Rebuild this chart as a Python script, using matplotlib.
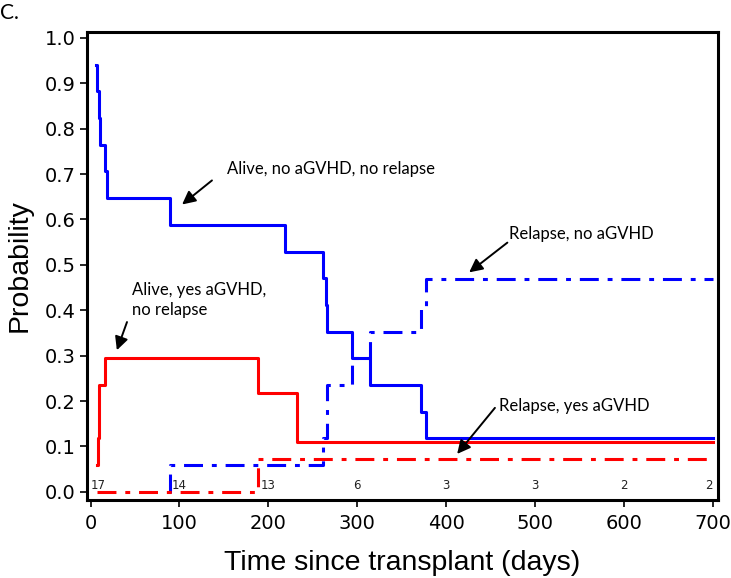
import matplotlib
matplotlib.use('Agg')
import matplotlib.pyplot as plt
import numpy as np

# step curves (time in days, probability)
t_alive_no = [6.5, 7.8, 9.0, 10.5, 16.4, 19.0, 89.3, 218.8, 262.0, 264.6, 266.5, 294.3, 314.5, 372.0, 377.6, 700]
p_alive_no = [0.941, 0.882, 0.824, 0.765, 0.706, 0.647, 0.588, 0.529, 0.471, 0.412, 0.353, 0.294, 0.235, 0.176, 0.118, 0.118]

t_alive_yes = [7.0, 8.5, 9.2, 10.0, 16.0, 188.0, 232.0, 700]
p_alive_yes = [0.059, 0.118, 0.176, 0.235, 0.294, 0.218, 0.110, 0.110]

t_rel_no = [88.0, 89.4, 262.0, 266.5, 294.3, 314.5, 372.0, 377.6, 700]
p_rel_no = [0.0, 0.059, 0.118, 0.235, 0.294, 0.353, 0.409, 0.469, 0.469]

t_rel_yes = [6.7, 188.0, 700]
p_rel_yes = [0.0, 0.073, 0.073]

risk_times = [0, 100, 200, 300, 400, 500, 600, 700]
risk_counts = ['17', '14', '13', '6', '3', '3', '2', '2']

BLUE = '#0000FF'
RED = '#FF0000'
LW = 2.2
dashdot = (0, (6.2, 2.9, 1.6, 2.9))

fig = plt.figure(figsize=(7.31, 5.78), dpi=100)
ax = fig.add_axes([87/731, 1-500/578, (718-87)/731, (500-32)/578])

ax.step(t_rel_no, p_rel_no, where='post', color=BLUE, lw=LW, linestyle=dashdot)
ax.step(t_rel_yes, p_rel_yes, where='post', color=RED, lw=LW, linestyle=dashdot)
ax.step(t_alive_yes, p_alive_yes, where='post', color=RED, lw=LW)
ax.step(t_alive_no, p_alive_no, where='post', color=BLUE, lw=LW)

ax.set_xlim(-4, 706)
ax.set_ylim(-0.018, 1.013)
ax.set_xticks(np.arange(0, 701, 100))
ax.set_yticks(np.arange(0, 1.01, 0.1))
ax.set_yticklabels(['%.1f' % v for v in np.arange(0, 1.01, 0.1)])
ax.tick_params(labelsize=14, length=5, width=1.2, direction='out', pad=3)
ax.tick_params(axis='x', pad=5)
for s in ax.spines.values():
    s.set_linewidth(2.2)

ax.set_xlabel('Time since transplant (days)', fontsize=20.5, family='Liberation Sans', labelpad=12)
ax.set_ylabel('Probability', fontsize=20.5, family='Liberation Sans', labelpad=9)

# numbers at risk
for i, (t, n) in enumerate(zip(risk_times, risk_counts)):
    ha = 'left' if i == 0 else ('right' if i == len(risk_times) - 1 else 'center')
    ax.text(t, 0.013, n, ha=ha, va='center', fontsize=8.5, color='#222222')

arrow = dict(arrowstyle='-|>', color='black', lw=1.4, mutation_scale=20, shrinkA=0, shrinkB=0)
afont = dict(fontsize=12, family='Lato', va='center', ha='left')
ax.annotate('', xy=(103, 0.633), xytext=(136.6, 0.686), arrowprops=arrow)
ax.text(153.7, 0.712, 'Alive, no aGVHD, no relapse', **afont)
ax.annotate('', xy=(29.6, 0.312), xytext=(41, 0.374), arrowprops=arrow)
ax.text(47, 0.422, 'Alive, yes aGVHD,\nno relapse', linespacing=1.3, **afont)
ax.annotate('', xy=(426, 0.4835), xytext=(469, 0.549), arrowprops=arrow)
ax.text(471, 0.569, 'Relapse, no aGVHD', **afont)
ax.annotate('', xy=(412.5, 0.0835), xytext=(455, 0.185), arrowprops=arrow)
ax.text(459.6, 0.189, 'Relapse, yes aGVHD', **afont)

fig.text(0.0, 1-13/578, 'C.', fontsize=15, family='Lato', va='center', ha='left')

fig.savefig('out.png', dpi=100)
